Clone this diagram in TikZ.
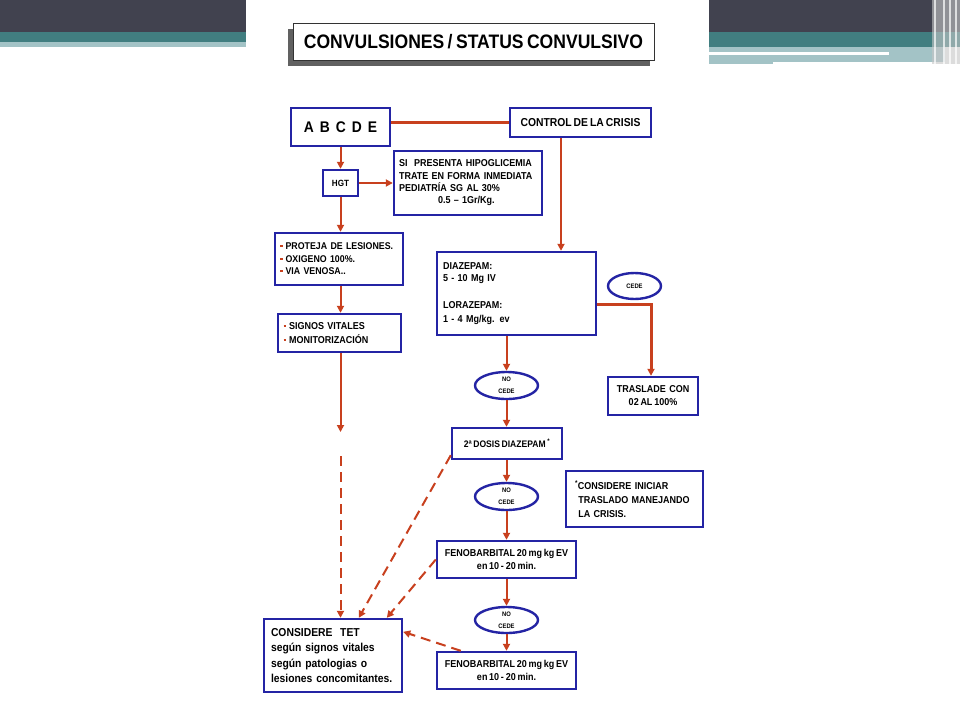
\documentclass[tikz,border=0pt]{standalone}
\usepackage{fontspec}
\setmainfont{Liberation Sans}[FakeStretch=0.9,WordSpace=0.7]
\usetikzlibrary{arrows.meta,shapes.geometric,calc}
\definecolor{bxblue}{HTML}{2424A4}
\definecolor{arred}{HTML}{C8401E}
\definecolor{dkband}{HTML}{41424F}
\definecolor{tlband}{HTML}{417E80}
\definecolor{ltband}{HTML}{A3C3C6}
\newcommand{\bul}{\textcolor{arred}{\rule[2.6pt]{2.6pt}{2.2pt}}\hspace{3pt}}
\tikzset{
  box/.style={draw=bxblue, line width=2.4pt, fill=white, inner sep=2pt},
  oval/.style={ellipse, draw=bxblue, line width=2.4pt, fill=white, inner sep=0pt, align=center,
    minimum width=63pt, minimum height=27pt, font=\bfseries\fontsize{6.5}{12}\selectfont},
  arr/.style={draw=arred, line width=2pt, -{Triangle[length=7pt,width=7pt]}},
  plainline/.style={draw=arred, line width=2.4pt},
  dasharr/.style={arr, dash pattern=on 10pt off 6pt},
  f10/.style={font=\bfseries\fontsize{10}{13}\selectfont}
}
\begin{document}
\begin{tikzpicture}[x=1pt,y=-1pt]
\useasboundingbox (0,0) rectangle (960,720);
\fill[white] (0,0) rectangle (960,720);
% header bands
\fill[dkband] (0,0) rectangle (246,32);
\fill[tlband] (0,32) rectangle (246,42);
\fill[ltband] (0,42) rectangle (246,47);
\fill[dkband] (709,0) rectangle (960,32);
\fill[tlband] (709,32) rectangle (960,47);
\fill[ltband] (709,47) rectangle (945,62);
\fill[ltband] (709,62) rectangle (773,64);
\fill[white] (709,52) rectangle (889,54.5);
\fill[gray!45, opacity=0.6] (932,0) rectangle (960,64);
\foreach \xx in {934,943,949,955}{\fill[white, opacity=0.7] (\xx,0) rectangle (\xx+1.5,64);}
% title
\fill[black!62] (288,29) rectangle (650,66);
\node[draw=black!80, line width=1pt, fill=white, minimum width=361pt, minimum height=37pt,
  font=\bfseries\fontsize{19.5}{20}\selectfont] (title) at (473.5,41.5) {CONVULSIONES / STATUS CONVULSIVO};
% nodes
\node[box, minimum width=99pt, minimum height=38pt, font=\bfseries\fontsize{15.4}{16}\selectfont]
  (abcde) at (340.5,127) {A\hspace{6pt}B\hspace{6pt}C\hspace{6pt}D\hspace{6pt}E};
\node[box, minimum width=141pt, minimum height=29pt, font=\bfseries\fontsize{11.5}{13}\selectfont]
  (control) at (580.5,122.5) {CONTROL DE LA CRISIS};
\node[box, minimum width=35pt, minimum height=26pt, font=\bfseries\fontsize{9}{10}\selectfont]
  (hgt) at (340.5,183) {HGT};
\node[box, minimum width=148pt, minimum height=64pt, text width=138pt, align=left,
  font=\bfseries\fontsize{10}{12.3}\selectfont]
  (hypo) at (468,183) {SI\ \ PRESENTA HIPOGLICEMIA\\TRATE EN FORMA INMEDIATA\\PEDIATRÍA SG AL 30\%\\\hspace{39pt}0.5 – 1Gr/Kg.};
\node[box, minimum width=128pt, minimum height=52pt, text width=118pt, align=left,
  font=\bfseries\fontsize{9.8}{12.5}\selectfont]
  (protect) at (339,259) {\bul PROTEJA DE LESIONES.\\\bul OXIGENO 100\%.\\\bul VIA VENOSA..};
\node[box, minimum width=123pt, minimum height=38pt, text width=112pt, align=left,
  font=\bfseries\fontsize{10}{14}\selectfont]
  (signos) at (339.5,333) {\bul SIGNOS VITALES\\\bul MONITORIZACIÓN};
\node[box, minimum width=159pt, minimum height=83pt, text width=147pt, align=left,
  font=\bfseries\fontsize{10}{12}\selectfont]
  (diaz) at (516.5,293.5) {DIAZEPAM:\\5 - 10 Mg IV\\[15pt]LORAZEPAM:\\[2pt]1 - 4 Mg/kg. ev};
\node[oval, minimum width=53pt, minimum height=26pt] (cede) at (634.5,286) {CEDE};
\node[box, minimum width=90pt, minimum height=38pt, align=center, f10]
  (trasl) at (653,396) {TRASLADE\ \ CON\\02 AL 100\%};
\node[oval] (nc1) at (506.5,385.5) {NO\\CEDE};
\node[box, minimum width=110pt, minimum height=31pt, font=\bfseries\fontsize{9.5}{11}\selectfont]
  (dosis) at (507,443.5) {2ª DOSIS DIAZEPAM\ \textsuperscript{*}};
\node[oval] (nc2) at (506.5,496.5) {NO\\CEDE};
\node[box, minimum width=137pt, minimum height=56pt, text width=119pt, align=left,
  font=\bfseries\fontsize{10}{14}\selectfont]
  (inicia) at (634.5,499) {\textsuperscript{*}CONSIDERE INICIAR\\\ TRASLADO MANEJANDO\\\ LA CRISIS.};
\node[box, minimum width=139pt, minimum height=37pt, align=center, f10]
  (feno1) at (506.5,559.5) {FENOBARBITAL 20 mg kg EV\\en 10 - 20 min.};
\node[oval, minimum height=26pt] (nc3) at (506.5,620) {NO\\CEDE};
\node[box, minimum width=139pt, minimum height=37pt, align=center, f10]
  (feno2) at (506.5,670.5) {FENOBARBITAL 20 mg kg EV\\en 10 - 20 min.};
\node[box, minimum width=138pt, minimum height=73pt, text width=124pt, align=left,
  font=\bfseries\fontsize{11.5}{15.3}\selectfont]
  (tet) at (333,655.5) {CONSIDERE\ \ TET\\según signos vitales\\según patologias o\\lesiones concomitantes.};
% connectors
\draw[plainline] (abcde.east |- control.west) -- (control.west);
\draw[arr] (abcde.south) -- (hgt.north);
\draw[arr] (hgt.east) -- (hypo.west |- hgt.east);
\draw[arr] (hgt.south) -- (hgt.south |- protect.north);
\draw[arr] (protect.south -| hgt.south) -- (signos.north -| hgt.south);
\coordinate (lend) at (340.5,432);
\coordinate (dstart) at (340.5,456);
\draw[arr] (signos.south -| lend) -- (lend);
\draw[dasharr] (dstart) -- (tet.north -| dstart);
\coordinate (cx) at (561,0);
\draw[arr] (control.south -| cx) -- (diaz.north -| cx);
\coordinate (corner) at (651,304);
\draw[arr, line width=3pt] (diaz.east |- corner) -| (trasl.north -| corner);
\draw[arr] (diaz.south -| nc1.north) -- (nc1.north);
\draw[arr] (nc1.south) -- (dosis.north -| nc1.south);
\draw[arr] (dosis.south -| nc2.north) -- (nc2.north);
\draw[arr] (nc2.south) -- (feno1.north -| nc2.south);
\draw[arr] (feno1.south -| nc3.north) -- (nc3.north);
\draw[arr] (nc3.south) -- (feno2.north -| nc3.south);
\draw[dasharr] ($(dosis.south west)!0.15!(dosis.north west)$) -- ($(tet.north west)+(96,0)$);
\draw[dasharr] (feno1.west) -- ($(tet.north west)+(124,0)$);
\draw[dasharr] ($(feno2.north west)+(25,0)$) -- ($(tet.north east)+(0,14)$);
\end{tikzpicture}
\end{document}
